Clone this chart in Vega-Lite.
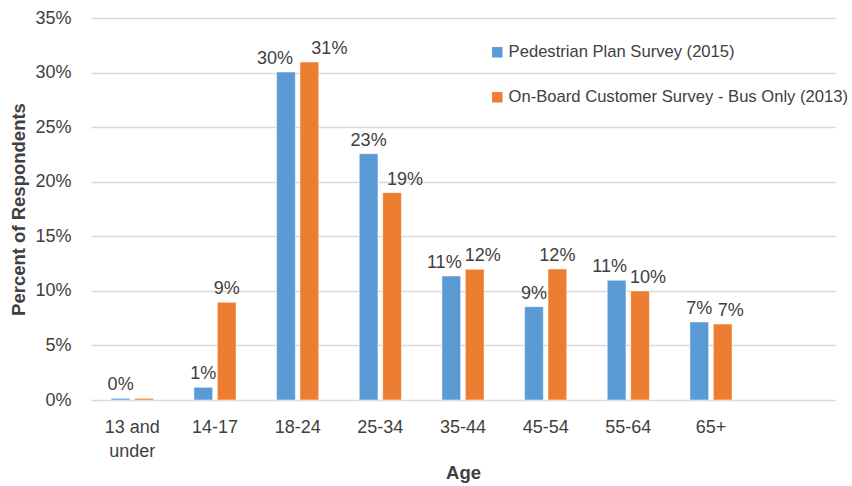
{
  "$schema": "https://vega.github.io/schema/vega-lite/v6.json",
  "width": 744,
  "height": 382,
  "autosize": {"type": "none"},
  "padding": {"left": 91, "top": 18, "right": 17, "bottom": 86},
  "background": "white",
  "config": {
    "view": {"stroke": null},
    "font": "Liberation Sans, Arial, sans-serif",
    "axis": {"labelColor": "#404040", "titleColor": "#404040", "labelFontSize": 18}
  },
  "data": {
    "values": [
      {"age": "13 and under", "survey": "Pedestrian Plan Survey (2015)", "pct": 0.0015},
      {"age": "14-17", "survey": "Pedestrian Plan Survey (2015)", "pct": 0.0116},
      {"age": "18-24", "survey": "Pedestrian Plan Survey (2015)", "pct": 0.3005},
      {"age": "25-34", "survey": "Pedestrian Plan Survey (2015)", "pct": 0.2257},
      {"age": "35-44", "survey": "Pedestrian Plan Survey (2015)", "pct": 0.1136},
      {"age": "45-54", "survey": "Pedestrian Plan Survey (2015)", "pct": 0.0855},
      {"age": "55-64", "survey": "Pedestrian Plan Survey (2015)", "pct": 0.1097},
      {"age": "65+", "survey": "Pedestrian Plan Survey (2015)", "pct": 0.0715},
      {"age": "13 and under", "survey": "On-Board Customer Survey - Bus Only (2013)", "pct": 0.0015},
      {"age": "14-17", "survey": "On-Board Customer Survey - Bus Only (2013)", "pct": 0.0895},
      {"age": "18-24", "survey": "On-Board Customer Survey - Bus Only (2013)", "pct": 0.3097},
      {"age": "25-34", "survey": "On-Board Customer Survey - Bus Only (2013)", "pct": 0.19},
      {"age": "35-44", "survey": "On-Board Customer Survey - Bus Only (2013)", "pct": 0.1197},
      {"age": "45-54", "survey": "On-Board Customer Survey - Bus Only (2013)", "pct": 0.12},
      {"age": "55-64", "survey": "On-Board Customer Survey - Bus Only (2013)", "pct": 0.0999},
      {"age": "65+", "survey": "On-Board Customer Survey - Bus Only (2013)", "pct": 0.0696}
    ]
  },
  "encoding": {
    "x": {
      "field": "age",
      "type": "nominal",
      "sort": null,
      "scale": {
        "domain": ["13 and under", "14-17", "18-24", "25-34", "35-44", "45-54", "55-64", "65+", " "],
        "paddingInner": 0.49,
        "paddingOuter": 0.245
      },
      "axis": {
        "title": "Age",
        "titleFontSize": 18.5,
        "titleFontWeight": "bold",
        "titlePadding": 3,
        "labelAngle": 0,
        "labelPadding": 18,
        "labelLineHeight": 24,
        "domain": false,
        "ticks": false,
        "labelExpr": "datum.label == '13 and under' ? ['13 and', 'under'] : datum.label"
      }
    },
    "xOffset": {
      "field": "survey",
      "type": "nominal",
      "sort": ["Pedestrian Plan Survey (2015)", "On-Board Customer Survey - Bus Only (2013)"],
      "scale": {"paddingInner": 0.2, "paddingOuter": 0}
    },
    "y": {
      "field": "pct",
      "type": "quantitative",
      "scale": {"domain": [0, 0.35], "nice": false},
      "axis": {
        "title": "Percent of Respondents",
        "titleFontSize": 18.5,
        "titleFontWeight": "bold",
        "titlePadding": 6,
        "format": ".0%",
        "values": [0, 0.05, 0.1, 0.15, 0.2, 0.25, 0.3, 0.35],
        "labelOverlap": false,
        "labelPadding": 20,
        "domain": false,
        "ticks": false,
        "grid": true,
        "gridColor": "#d9d9d9",
        "gridWidth": 1.5
      }
    }
  },
  "layer": [
    {
      "mark": {"type": "bar", "stroke": "white", "strokeWidth": 0.5},
      "encoding": {
        "color": {
          "field": "survey",
          "type": "nominal",
          "scale": {
            "domain": ["Pedestrian Plan Survey (2015)", "On-Board Customer Survey - Bus Only (2013)"],
            "range": ["#5b9bd5", "#ed7d31"]
          },
          "legend": {
            "title": null,
            "orient": "none",
            "legendX": 398,
            "legendY": 26,
            "symbolType": "square",
            "symbolSize": 110,
            "symbolStrokeWidth": 0,
            "labelFontSize": 16.6,
            "labelColor": "#404040",
            "labelLimit": 0,
            "labelOffset": 3,
            "rowPadding": 28
          }
        }
      }
    },
    {
      "transform": [
        {"filter": "!(datum.age == '13 and under' && datum.survey == 'On-Board Customer Survey - Bus Only (2013)')"}
      ],
      "mark": {
        "type": "text",
        "baseline": "bottom",
        "dy": -4,
        "fontSize": 18,
        "color": "#404040",
        "dx": {"expr": "datum.survey == 'Pedestrian Plan Survey (2015)' ? (datum.age == '18-24' ? -11 : (datum.age == '35-44' || datum.age == '55-64') ? -7 : 0) : (datum.age == '18-24' ? 20 : datum.age == '25-34' ? 13 : (datum.age == '35-44' || datum.age == '55-64' || datum.age == '65+') ? 8 : 0)"}
      },
      "encoding": {
        "text": {"field": "pct", "type": "quantitative", "format": ".0%"}
      }
    }
  ]
}
